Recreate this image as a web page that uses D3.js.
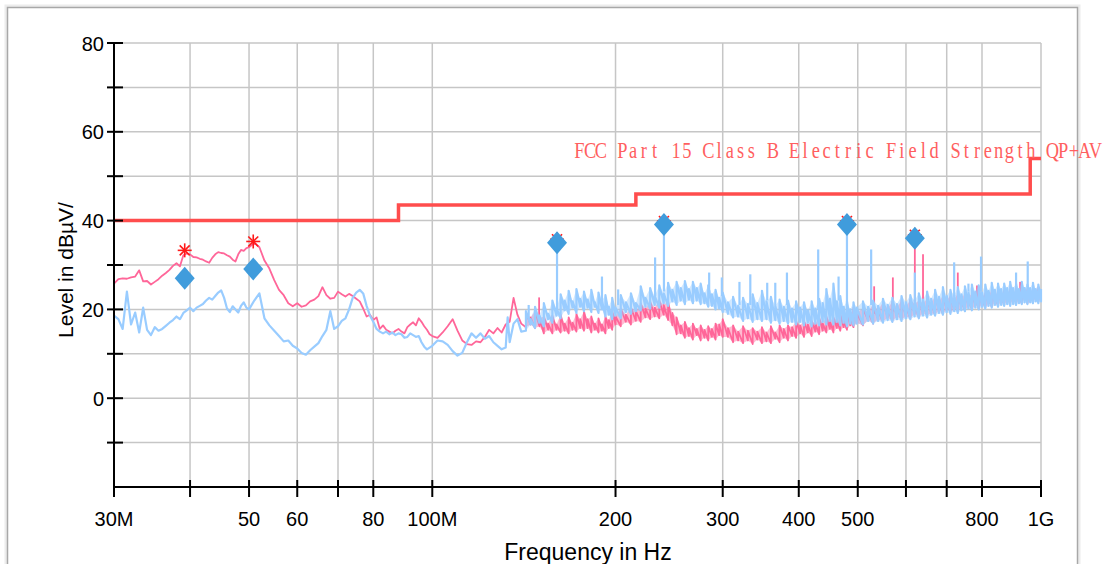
<!DOCTYPE html>
<html>
<head>
<meta charset="utf-8">
<script src="https://cdn.jsdelivr.net/npm/d3@7/dist/d3.min.js"></script>
<style>
  body { margin: 0; background: #fff; }
  svg { display: block; font-family: "Liberation Sans", Arial, sans-serif; }
</style>
</head>
<body>
<svg id="chart" width="1104" height="564"></svg>
<script>
/* ============================================================
   EMC scan: level vs frequency (log axis), FCC Part 15 limit
   ============================================================ */

// Axis ticks
const xTickValues = [30, 40, 50, 60, 70, 80, 100, 200, 300, 400, 500, 600, 700, 800, 1000];
const xLabelValues = [30, 50, 60, 80, 100, 200, 300, 400, 500, 800, 1000];
const xLabelTexts = ['30M', '50', '60', '80', '100M', '200', '300', '400', '500', '800', '1G'];
const yTickValues = [-10, 0, 10, 20, 30, 40, 50, 60, 70, 80];
const yLabelValues = [0, 20, 40, 60, 80];

// Limit line (MHz edges, dBuV/m levels)
const limitEdges = [30, 88, 216, 960, 1000];
const limitLevels = [40, 43.5, 46, 54, 54];
const limitName = 'FCC Part 15 Class B Electric Field Strength QP+AV';

// Pink trace, 30-140 MHz [MHz, dBuV]
const tracePink = [
  [30,25.8],[30.5,26.8],[31,27.0],[31.5,26.9],[32,27.2],[32.5,27.4],[33,28.8],[33.5,26.3],[34,26.4],[34.5,25.6],
  [35,26.2],[35.5,26.8],[36,27.6],[36.5,28.2],[37,28.9],[37.5,29.8],[38,30.4],[38.5,29.7],[39,32.2],[39.5,32.6],
  [40,32.4],[40.5,31.8],[41,31.7],[41.5,31.4],[42,31.2],[42.5,30.8],[43,30.5],[43.5,31.6],[44,32.4],[44.5,32.9],
  [45,32.7],[45.5,32.6],[46,32.2],[46.5,31.9],[47,31.2],[47.5,30.8],[48,32.4],[48.5,33.4],[49,33.2],[49.5,33.8],
  [50,34.0],[51,35.0],[52,34.0],[53,31.0],[54,29.2],[55,26.6],[56,24.4],[57,23.2],[58,21.4],[59,20.7],
  [60,21.4],[61,20.6],[62,20.9],[63,21.8],[64,22.2],[65,23.0],[66,25.0],[67,23.2],[68,22.4],[69,22.6],
  [70,24.0],[71,23.4],[72,22.9],[73,23.5],[74,23.0],[75,22.4],[76,21.8],[77,20.2],[78,18.4],[79,18.8],
  [80,17.6],[81,18.2],[82,15.6],[83,16.4],[84,15.4],[85,15.0],[86,14.6],[87,15.2],[88,15.6],[89,15.0],
  [90,14.6],[91,16.0],[92,16.6],[93,17.1],[94,16.4],[95,18.0],[96,17.2],[97,16.2],[98,15.4],[99,14.4],
  [100,14.0],[102,13.6],[104,14.8],[106,16.2],[108,17.8],[110,15.2],[112,13.0],[114,12.2],[116,12.0],[118,12.8],
  [120,12.6],[122,13.8],[124,15.4],[126,14.6],[128,15.8],[130,14.8],[132,16.6],[134,17.2],[136,22.6],[138,18.8],
  [140,16.8]
];

// Pink trace, 140 MHz-1 GHz, dense part as [MHz, min, max] per bin
const bandPink = [
  [142.5,16.0,19.4],[145,16.6,18.2],[147.5,15.8,19.6],[150,16.2,18.0],[152.5,14.6,18.4],[155,15.4,16.8],
  [157.5,14.6,18.6],[160,15.4,16.6],[162.5,14.8,18.8],[165,15.2,16.8],[167.5,14.6,18.2],[170,15.4,17.0],
  [172.5,15.0,19.0],[175,15.8,17.8],[177.5,15.2,19.6],[180,15.8,17.8],[182.5,14.8,18.4],[185,15.4,16.8],
  [187.5,14.8,18.0],[190,15.2,16.6],[192.5,14.6,18.4],[195,15.8,17.6],[197.5,15.4,19.6],[200,16.6,18.4],
  [204,16.2,20.2],[208,17.2,18.8],[212,16.6,20.4],[216,17.4,19.6],[220,17.2,21.4],[224,18.2,20.2],
  [228,17.8,21.8],[232,18.4,20.4],[236,18.0,22.0],[240,18.8,21.0],[244,17.6,21.8],[248,16.4,19.2],
  [252,14.4,18.2],[256,14.6,16.4],[260,13.6,17.2],[264,14.0,15.8],[268,13.2,16.8],[272,14.2,15.6],
  [276,13.0,16.4],[280,13.6,15.4],[284,13.0,16.2],[288,13.8,15.6],[292,13.2,16.8],[296,14.2,16.6],
  [300,13.8,17.8],[306,13.8,15.8],[312,12.6,16.4],[318,13.0,15.0],[324,12.4,16.2],[330,13.0,15.2],
  [336,12.2,15.8],[342,13.2,15.0],[348,12.4,16.0],[354,12.8,14.8],[360,12.4,16.2],[366,13.4,14.8],
  [372,12.6,16.4],[378,13.6,15.6],[384,13.0,16.4],[390,14.0,16.0],[396,13.6,17.4],[402,14.6,16.4],
  [408,13.8,17.4],[414,14.8,16.6],[420,14.0,17.4],[426,15.0,16.8],[432,14.4,18.2],[438,15.2,16.8],
  [444,14.8,18.4],[450,15.6,17.4],[456,14.8,18.2],[462,15.8,17.6],[468,15.2,19.0],[474,16.0,17.6],
  [480,15.4,19.2],[486,16.4,18.4],[492,16.0,20.4],[498,17.0,19.2],[510,16.4,20.2],[520,17.6,19.4],
  [530,16.8,21.2],[540,17.8,19.8],[550,17.2,21.6],[560,18.2,20.2],[570,17.4,21.8],[580,18.4,20.4],
  [590,17.8,22.0],[600,18.4,20.6],[610,18.0,22.2],[620,19.0,21.2],[630,18.2,22.0],[640,19.2,21.4],
  [650,18.6,22.4],[660,19.2,21.4],[670,18.8,23.0],[680,19.8,21.6],[690,19.0,23.2],[700,20.0,22.2],
  [710,19.4,23.0],[720,20.0,22.2],[730,19.6,23.6],[740,20.6,22.2],[750,19.8,23.8],[760,20.8,22.8],
  [770,20.0,23.6],[780,21.0,23.0],[790,20.2,23.8],[800,21.2,22.8],[810,20.4,23.6],[820,21.4,23.0],
  [830,20.6,24.4],[840,21.6,23.0],[850,20.8,24.2],[860,21.8,23.4],[870,21.0,24.2],[880,22.0,23.6],
  [890,21.2,24.4],[900,22.2,23.4],[910,21.4,24.8],[920,21.8,23.6],[930,21.4,24.4],[940,22.4,23.8],
  [950,21.4,24.6],[960,22.2,23.6],[970,21.8,25.0],[980,22.4,23.8],[990,21.8,25.0],[1000,22.4,23.8]
];

// Pink narrowband spikes [MHz, base, peak]
const spikesPink = [
  [149.8,17.0,22.7],[532,19.0,25.2],[571,19.5,27.2],[620.5,20.0,36.0],[640,20.0,32.4],
  [730,21.0,28.3],[785,22.0,25.4],[924,22.5,26.2]
];

// Light blue trace, 30-140 MHz [MHz, dBuV]
const traceBlue = [
  [30,18.6],[30.5,17.8],[31,15.6],[31.5,24.0],[32,16.6],[32.5,19.3],[33,14.8],[33.5,20.4],[34,15.4],[34.5,14.2],
  [35,16.0],[35.5,15.2],[36,15.6],[36.5,16.3],[37,17.0],[37.5,17.6],[38,18.4],[38.5,17.8],[39,19.2],[39.5,19.8],
  [40,20.4],[40.5,19.6],[41,20.4],[41.5,20.8],[42,21.2],[42.5,22.0],[43,22.6],[43.5,22.2],[44,23.0],[44.5,23.8],
  [45,24.3],[45.5,22.6],[46,20.2],[46.5,19.4],[47,20.7],[47.5,20.0],[48,19.3],[48.5,20.8],[49,21.6],[49.5,20.4],
  [50,20.0],[51,22.0],[52,23.6],[53,18.0],[54,16.4],[55,15.2],[56,14.0],[57,12.8],[58,13.0],[59,11.8],
  [60,11.2],[61,10.2],[62,9.8],[63,10.8],[64,11.6],[65,12.4],[66,14.0],[67,15.4],[68,19.6],[69,15.6],
  [70,16.2],[71,17.4],[72,18.0],[73,20.0],[74,22.6],[75,23.8],[76,24.4],[77,23.6],[78,20.8],[79,18.6],
  [80,17.2],[81,15.6],[82,15.0],[83,14.6],[84,15.0],[85,14.4],[86,14.8],[87,14.2],[88,14.6],[89,14.4],
  [90,13.6],[91,13.8],[92,14.6],[93,14.2],[94,13.8],[95,14.0],[96,12.6],[97,11.6],[98,11.0],[99,11.4],
  [100,11.8],[102,13.0],[104,12.8],[106,12.0],[108,10.6],[110,9.6],[112,10.2],[114,12.6],[116,14.6],[118,13.6],
  [120,14.6],[122,13.4],[124,14.0],[126,12.6],[128,11.8],[130,11.0],[132,11.4],[133,18.2],[134,12.6],[136,16.8],
  [138,17.8],[140,15.0]
];

// Light blue trace, 140 MHz-1 GHz [MHz, min, max] per bin
const bandBlue = [
  [142.5,15.2,19.6],[145,16.6,17.8],[147.5,15.8,20.6],[150,17.0,18.6],[152.5,16.2,21.4],[155,17.8,19.0],
  [157.5,17.0,22.0],[160,18.6,20.2],[162.5,18.0,23.4],[165,19.8,22.0],[167.5,19.0,24.2],[170,20.4,21.8],
  [172.5,19.2,24.6],[175,20.6,22.4],[177.5,19.6,24.0],[180,20.4,22.2],[182.5,19.4,24.4],[185,20.6,21.6],
  [187.5,19.2,23.8],[190,20.0,22.0],[192.5,18.4,23.2],[195,18.8,20.6],[197.5,17.8,22.6],[200,18.6,20.4],
  [204,18.0,23.2],[208,19.4,21.6],[212,19.0,23.6],[216,19.6,21.4],[220,19.8,25.2],[224,20.6,22.6],
  [228,20.2,24.8],[232,21.0,23.0],[236,20.4,25.4],[240,21.4,23.6],[244,20.8,26.0],[248,21.8,24.4],
  [252,21.0,26.2],[256,22.0,24.8],[260,21.2,26.4],[264,22.2,24.6],[268,21.4,26.2],[272,22.0,24.8],
  [276,21.2,25.8],[280,21.4,23.6],[284,20.6,25.4],[288,20.8,23.4],[292,20.0,24.4],[296,20.2,22.6],
  [300,19.4,23.8],[306,19.0,21.6],[312,18.2,22.8],[318,18.4,20.8],[324,17.4,22.6],[330,18.0,21.2],
  [336,17.2,23.4],[342,17.8,21.4],[348,17.4,24.2],[354,17.8,21.8],[360,17.0,22.8],[366,17.6,20.8],
  [372,16.8,22.2],[378,17.4,20.6],[384,16.8,22.0],[390,17.2,20.2],[396,16.6,21.8],[402,17.2,20.4],
  [408,16.4,21.6],[414,17.0,19.8],[420,16.2,21.8],[426,16.8,20.2],[432,16.4,22.4],[438,17.2,21.4],
  [444,16.6,24.6],[450,17.4,22.4],[456,16.6,25.8],[462,17.2,21.8],[468,16.4,23.0],[474,17.0,20.6],
  [480,16.2,21.8],[486,16.8,20.0],[492,16.4,21.6],[498,16.8,20.4],[510,16.6,21.8],[520,17.4,20.6],
  [530,16.8,22.0],[540,17.4,20.8],[550,17.0,22.4],[560,17.6,21.0],[570,17.2,22.6],[580,17.8,21.2],
  [590,17.4,23.0],[600,18.0,21.6],[610,17.8,23.2],[620,18.4,22.0],[630,18.0,23.6],[640,18.6,22.2],
  [650,18.2,24.0],[660,18.8,22.4],[670,18.6,24.4],[680,19.2,22.8],[690,18.8,25.0],[700,19.4,23.0],
  [710,19.0,24.4],[720,19.6,23.2],[730,19.2,25.0],[740,19.8,23.4],[750,19.6,25.2],[760,20.2,23.8],
  [770,19.8,25.6],[780,20.4,24.0],[790,20.0,25.4],[800,20.6,23.8],[810,20.2,25.6],[820,20.8,24.2],
  [830,20.4,26.0],[840,21.0,24.4],[850,20.6,25.8],[860,21.0,24.6],[870,20.8,25.8],[880,21.2,24.8],
  [890,20.8,26.2],[900,21.2,24.8],[910,21.0,25.8],[920,21.4,24.6],[930,21.2,26.2],[940,21.6,24.8],
  [950,21.2,25.6],[960,21.6,24.8],[970,21.4,26.0],[980,21.8,24.6],[990,21.4,25.6],[1000,21.8,24.6]
];

// Light blue narrowband spikes [MHz, base, peak]
const spikesBlue = [
  [144,18.0,21.0],[160.3,20.0,35.0],[190,22.0,27.4],[202,21.0,24.5],[232.3,23.0,31.7],[240.2,24.0,39.0],
  [285,24.0,28.3],[299,23.0,27.2],[319.6,21.0,26.2],[333,21.0,27.9],[355,22.0,26.0],[366,21.0,26.0],
  [382.5,21.0,28.3],[430.5,20.0,33.5],[465,22.0,27.4],[480,21.0,39.0],[526,21.0,33.5],[620.5,22.0,28.3],
  [720,23.0,30.6],[760,24.0,25.8],[797,24.0,31.9],[910,25.0,28.3],[951,25.0,30.8]
];

// Final measurement markers
const qpMarkers = [[39.2, 27.0], [50.8, 29.1], [160.3, 35.0], [240.2, 39.1], [480, 39.1], [620.5, 36.0]];
const peakMarkers = [[39.2, 33.3], [50.8, 35.3], [160.3, 35.8], [240.2, 39.9], [480, 39.9], [620.5, 36.8]];

const COLORS = {
    grid: '#c6c6c6', axis: '#000', limit: '#ff4d4d', limitText: '#ff5f5f',
    pink: '#ff6699', blue: '#99ccff', diamond: '#409cdc', star: '#ff1a1a'
};

const svg = d3.select('#chart');

// Outer panel frame
svg.append('rect').attr('x', 6).attr('y', 6).attr('width', 1073).attr('height', 620)
    .attr('fill', 'none').attr('stroke', '#ececec').attr('stroke-width', 3);
svg.append('rect').attr('x', 7.5).attr('y', 7.5).attr('width', 1070).attr('height', 620)
    .attr('fill', 'none').attr('stroke', '#a8a8a8').attr('stroke-width', 1.5);

const x = d3.scaleLog().domain([30, 1000]).range([114, 1041]);
const y = d3.scaleLinear().domain([-20, 80]).range([487, 43]);

// Grid
const grid = svg.append('g');
xTickValues.slice(1).forEach(v => {
    grid.append('line').attr('x1', x(v)).attr('x2', x(v)).attr('y1', y(80)).attr('y2', y(-20))
        .attr('stroke', COLORS.grid).attr('stroke-width', 1.5);
});
yTickValues.forEach(v => {
    grid.append('line').attr('x1', x(30)).attr('x2', x(1000)).attr('y1', y(v)).attr('y2', y(v))
        .attr('stroke', COLORS.grid).attr('stroke-width', 1.5);
});

// Limit line
const limitPts = limitEdges.map((f, i) => [f, limitLevels[i]]);
svg.append('path')
    .attr('d', d3.line().curve(d3.curveStepAfter).x(d => x(d[0])).y(d => y(d[1]))(limitPts))
    .attr('fill', 'none').attr('stroke', COLORS.limit).attr('stroke-width', 3.5);

// Limit name, monospaced cells
const chars = Array.from(limitName);
const cell = 10.75, squeeze = 0.8;
svg.append('g').attr('transform', `translate(574,158) scale(${squeeze},1)`)
    .append('text')
    .attr('x', chars.map((c, i) => ((i + 0.5) * cell / squeeze).toFixed(2)).join(' '))
    .attr('y', 0)
    .attr('text-anchor', 'middle')
    .attr('font-family', '"Liberation Serif", "DejaVu Serif", serif')
    .attr('font-size', 23)
    .attr('fill', COLORS.limitText)
    .text(limitName);

// Traces: single line below 140 MHz, min/max zigzag above
const line = d3.line().x(d => x(d[0])).y(d => y(d[1]));
const bandArea = d3.area().x(d => x(d[0])).y0(d => y(d[1])).y1(d => y(d[2]));
function tracePoints(trace, band) {
    return trace.concat(band.flatMap(d => [[d[0], d[1]], [d[0], d[2]]]));
}
function drawTrace(trace, band, spikes, color, width) {
    svg.append('path').attr('d', bandArea(band)).attr('fill', color).attr('fill-opacity', 0.45);
    svg.append('path').attr('d', line(tracePoints(trace, band))).attr('fill', 'none')
        .attr('stroke', color).attr('stroke-width', width).attr('stroke-linejoin', 'round');
    spikes.forEach(d => {
        svg.append('line').attr('x1', x(d[0])).attr('x2', x(d[0])).attr('y1', y(d[1])).attr('y2', y(d[2]))
            .attr('stroke', color).attr('stroke-width', width);
    });
}
drawTrace(tracePink, bandPink, spikesPink, COLORS.pink, 1.8);
drawTrace(traceBlue, bandBlue, spikesBlue, COLORS.blue, 2.2);

// Peak markers (asterisks)
peakMarkers.forEach(d => {
    const g = svg.append('g').attr('transform', `translate(${x(d[0])},${y(d[1])})`);
    [[-7, 0, 7, 0], [0, -7, 0, 7], [-5, -5, 5, 5], [-5, 5, 5, -5]].forEach(s => {
        g.append('line').attr('x1', s[0]).attr('y1', s[1]).attr('x2', s[2]).attr('y2', s[3])
            .attr('stroke', COLORS.star).attr('stroke-width', 1.6);
    });
});

// QP markers (diamonds)
qpMarkers.forEach(d => {
    svg.append('path').attr('d', 'M0,-11.5L10,0L0,11.5L-10,0Z')
        .attr('transform', `translate(${x(d[0])},${y(d[1])})`)
        .attr('fill', COLORS.diamond);
});

// Axes
svg.append('line').attr('x1', x(30)).attr('x2', x(30)).attr('y1', y(80)).attr('y2', y(-20) + 1)
    .attr('stroke', COLORS.axis).attr('stroke-width', 2);
svg.append('line').attr('x1', x(30) - 1).attr('x2', x(1000)).attr('y1', y(-20)).attr('y2', y(-20))
    .attr('stroke', COLORS.axis).attr('stroke-width', 2);

yTickValues.forEach(v => {
    svg.append('line').attr('x1', x(30) - 7).attr('x2', x(30) + 9).attr('y1', y(v)).attr('y2', y(v))
        .attr('stroke', COLORS.axis).attr('stroke-width', 2);
});
yLabelValues.forEach(v => {
    svg.append('text').attr('x', 104).attr('y', y(v) + 7.5).attr('text-anchor', 'end')
        .attr('font-size', 20).attr('fill', '#000').text(v);
});

xTickValues.forEach(v => {
    svg.append('line').attr('x1', x(v)).attr('x2', x(v)).attr('y1', y(-20) - 7).attr('y2', y(-20) + 10)
        .attr('stroke', COLORS.axis).attr('stroke-width', 2);
});
xLabelValues.forEach((v, i) => {
    svg.append('text').attr('x', x(v)).attr('y', 526).attr('text-anchor', 'middle')
        .attr('font-size', 20).attr('fill', '#000').text(xLabelTexts[i]);
});

// Axis titles
svg.append('text').attr('x', 588).attr('y', 560).attr('text-anchor', 'middle')
    .attr('font-size', 23).attr('fill', '#000').text('Frequency in Hz');
svg.append('text').attr('transform', 'translate(73,270) rotate(-90)').attr('text-anchor', 'middle')
    .attr('font-size', 21).attr('fill', '#000').text('Level in dBµV/');
</script>
</body>
</html>
